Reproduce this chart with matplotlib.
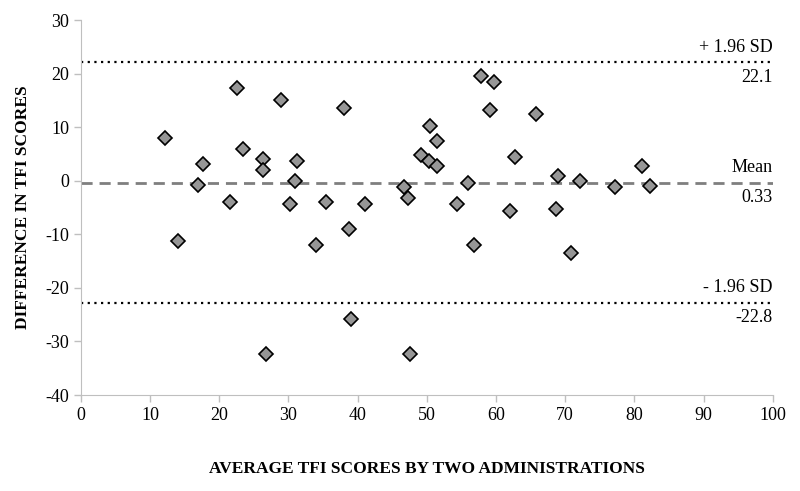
import matplotlib
matplotlib.use("Agg")
import matplotlib.pyplot as plt

plt.rcParams['font.family'] = ['Liberation Serif', 'DejaVu Serif']
plt.rcParams['axes.unicode_minus'] = False

avg_scores = [12.1, 22.6, 28.9, 23.5, 17.7, 26.3, 26.3, 31.2, 30.9, 16.9, 21.6, 30.2, 14.1, 34.0,
              38.1, 57.8, 59.7, 59.1, 65.8, 50.5, 51.5, 49.2, 50.3, 51.5, 62.7, 46.7, 47.3, 56.0,
              35.4, 41.1, 54.3, 62.0, 38.7, 56.8,
              81.1, 69.0, 72.1, 77.2, 82.2, 68.7, 70.9,
              26.7, 39.1, 47.5]
diff_scores = [8.0, 17.4, 15.1, 6.0, 3.2, 4.0, 2.0, 3.7, 0.0, -0.8, -4.0, -4.3, -11.2, -12.0,
               13.6, 19.5, 18.4, 13.2, 12.4, 10.3, 7.5, 4.8, 3.6, 2.7, 4.4, -1.1, -3.2, -0.4,
               -4.0, -4.3, -4.3, -5.6, -9.1, -12.0,
               2.8, 0.9, -0.1, -1.2, -0.9, -5.3, -13.4,
               -32.3, -25.9, -32.3]

upper_loa = 22.1
lower_loa = -22.8
mean_line = -0.35
mean_label = "0.33"

x_ticks = list(range(0, 101, 10))
y_ticks = list(range(-40, 31, 10))

fig = plt.figure(figsize=(8.0, 4.91), dpi=100)
ax = fig.add_axes([0.101, 0.1955, 0.865, 0.7637])

ax.plot(avg_scores, diff_scores, linestyle='none', marker='D', markersize=7.6,
        markerfacecolor='#969696', markeredgecolor='black', markeredgewidth=1.2, zorder=3)

ax.axhline(upper_loa, color='black', linestyle=(0, (1, 2)), linewidth=1.6, zorder=2)
ax.axhline(lower_loa, color='black', linestyle=(0, (1, 2)), linewidth=1.6, zorder=2)
ax.axhline(mean_line, color='#7f7f7f', linestyle=(0, (4, 2.5)), linewidth=2.0, zorder=2)

fs = 13
ax.text(100, upper_loa + 1.2, "+ 1.96 SD", ha='right', va='bottom', fontsize=fs)
ax.text(100, upper_loa - 1.2, f"{upper_loa}", ha='right', va='top', fontsize=fs)
ax.text(100, mean_line + 1.2, "Mean", ha='right', va='bottom', fontsize=fs)
ax.text(100, mean_line - 1.2, mean_label, ha='right', va='top', fontsize=fs)
ax.text(100, lower_loa + 1.2, "- 1.96 SD", ha='right', va='bottom', fontsize=fs)
ax.text(100, lower_loa - 1.2, f"{lower_loa}", ha='right', va='top', fontsize=fs)

ax.set_xlim(0, 100)
ax.set_ylim(-40, 30)
ax.set_xticks(x_ticks)
ax.set_yticks(y_ticks)
ax.tick_params(axis='both', labelsize=13, color='#bfbfbf', length=5, width=1, direction='out')
ax.spines['top'].set_visible(False)
ax.spines['right'].set_visible(False)
ax.spines['left'].set_color('#bfbfbf')
ax.spines['bottom'].set_color('#bfbfbf')

ax.set_xlabel("AVERAGE TFI SCORES BY TWO ADMINISTRATIONS", fontsize=12.5, fontweight='bold', labelpad=27)
ax.set_ylabel("DIFFERENCE IN TFI SCORES", fontsize=12.5, fontweight='bold', labelpad=10)

fig.savefig("out.png", dpi=100)
